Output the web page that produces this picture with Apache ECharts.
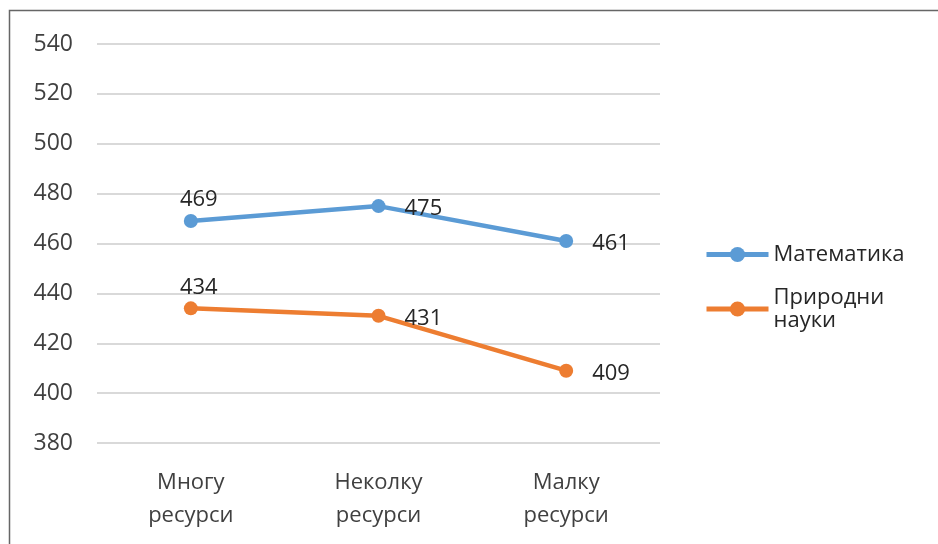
<!DOCTYPE html>
<html>
<head>
<meta charset="utf-8">
<script src="https://cdn.jsdelivr.net/npm/echarts@6/dist/echarts.min.js"></script>
<style>
  html, body { margin: 0; padding: 0; background: #fff; }
  #chart { width: 938px; height: 544px; }
</style>
</head>
<body>
<div id="chart"></div>
<script>
// Categories (resource levels) and scores per subject
const categories = ['Многу\nресурси', 'Неколку\nресурси', 'Малку\nресурси'];
const mathScores = [469, 475, 461];
const scienceScores = [434, 431, 409];
const seriesNames = ['Математика', 'Природни науки'];
const yTicks = { min: 380, max: 540, step: 20 };

const FONT = '"Open Sans", sans-serif';
const TEXT = '#404040';

// Label placement per point: first category above the marker, others to the right
function labelFor(i) {
  if (i === 0) {
    return { position: 'top', distance: 3, offset: [8, 0] };
  }
  return { position: 'right', distance: 19, offset: [0, 3] };
}

function buildData(values) {
  return values.map((v, i) => ({ value: v, label: labelFor(i) }));
}

function lineSeries(name, values, color) {
  return {
    name: name,
    type: 'line',
    data: buildData(values),
    symbol: 'circle',
    symbolSize: 14,
    lineStyle: { width: 4.5, color: color },
    itemStyle: { color: color },
    label: {
      show: true,
      fontFamily: FONT,
      fontSize: 22,
      color: '#262626'
    },
    emphasis: { disabled: true }
  };
}

const chart = echarts.init(document.getElementById('chart'), null, { renderer: 'canvas' });

chart.setOption({
  animation: false,
  backgroundColor: '#fff',
  graphic: [{
    type: 'rect',
    shape: { x: 9.5, y: 10.5, width: 1200, height: 1200 },
    style: { fill: 'none', stroke: '#666', lineWidth: 1.5 },
    silent: true
  }],
  grid: { left: 97, right: 278, top: 44, bottom: 101, containLabel: false },
  legend: {
    orient: 'vertical',
    left: 699,
    top: 238,
    itemWidth: 62,
    itemHeight: 19,
    itemGap: 20,
    data: seriesNames,
    lineStyle: { width: 5 },
    formatter: n => n === 'Природни науки' ? 'Природни\nнауки' : n,
    textStyle: { fontFamily: FONT, fontSize: 22, color: '#262626', lineHeight: 23 }
  },
  xAxis: {
    type: 'category',
    data: categories,
    boundaryGap: true,
    axisLine: { show: false },
    axisTick: { show: false },
    axisLabel: {
      margin: 23,
      fontFamily: FONT,
      fontSize: 22,
      lineHeight: 33,
      color: TEXT
    }
  },
  yAxis: {
    type: 'value',
    min: yTicks.min,
    max: yTicks.max,
    interval: yTicks.step,
    axisLine: { show: false },
    axisTick: { show: false },
    axisLabel: {
      margin: 24,
      fontFamily: FONT,
      fontSize: 23,
      color: TEXT
    },
    splitLine: { lineStyle: { color: '#d9d9d9', width: 2 } }
  },
  series: [
    lineSeries(seriesNames[0], mathScores, '#5B9BD5'),
    lineSeries(seriesNames[1], scienceScores, '#ED7D31')
  ]
});
</script>
</body>
</html>
